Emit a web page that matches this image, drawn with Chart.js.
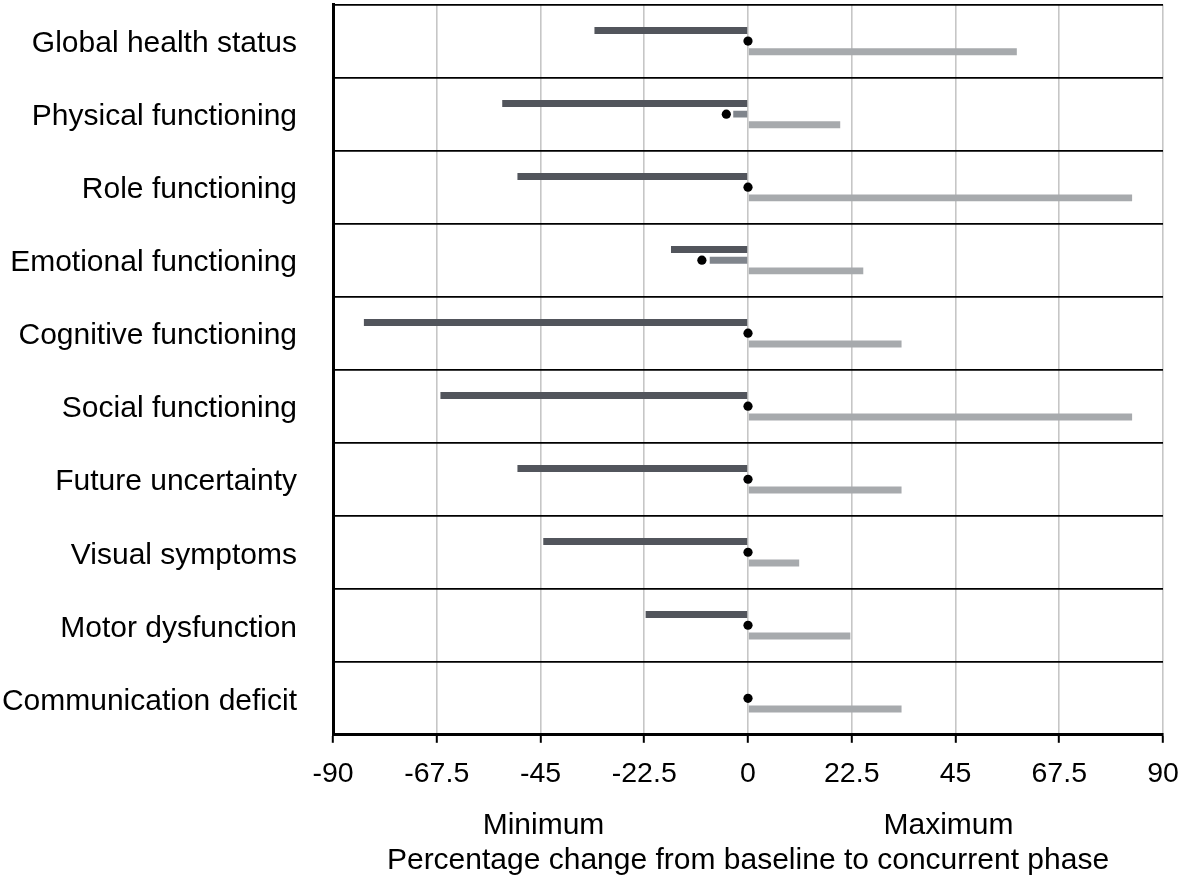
<!DOCTYPE html>
<html>
<head>
<meta charset="utf-8">
<script src="https://cdn.jsdelivr.net/npm/chart.js@4/dist/chart.umd.min.js"></script>
<style>
  html, body { margin: 0; padding: 0; background: #fff; }
  #wrap { width: 1181px; height: 883px; }
</style>
</head>
<body>
<div id="wrap"><canvas id="qolChart" width="1181" height="883"></canvas></div>
<script>
// domains (top to bottom)
const domains = ['Global health status', 'Physical functioning', 'Role functioning', 'Emotional functioning',
   'Cognitive functioning', 'Social functioning', 'Future uncertainty', 'Visual symptoms',
   'Motor dysfunction', 'Communication deficit'];

// percentage change from baseline to concurrent phase
const minimumVals = [-33.3, -53.3, -50, -16.7, -83.3, -66.7, -50, -44.4, -22.2, null];
const medianVals  = [null, -3.2, null, -8.3, null, null, null, null, null, null];
const maximumVals = [58.3, 20, 83.3, 25, 33.3, 83.3, 33.3, 11.1, 22.2, 33.3];
const dotVals     = [0, -4.7, 0, -10, 0, 0, 0, 0, 0, 0];

const xTicks = [-90, -67.5, -45, -22.5, 0, 22.5, 45, 67.5, 90];
const sideLabels = ['Minimum', 'Maximum'];
const xTitle = 'Percentage change from baseline to concurrent phase';

Chart.defaults.font.family = '"Liberation Sans", Arial, Helvetica, sans-serif';
Chart.defaults.color = '#000';

// Minimum / Maximum under the two halves of the axis
const sideLabelPlugin = {
   id: 'sideLabels',
   afterDraw(chart){
      const ctx = chart.ctx;
      const x = chart.scales.x;
      const zero = x.getPixelForValue(0);
      const y = chart.chartArea.bottom + 91;
      ctx.save();
      ctx.font = '30px "Liberation Sans", Arial, sans-serif';
      ctx.fillStyle = '#000';
      ctx.textAlign = 'center';
      ctx.textBaseline = 'middle';
      ctx.fillText(sideLabels[0], (x.left + zero) / 2 + 3, y);
      ctx.fillText(sideLabels[1], (zero + x.right) / 2 - 7, y);
      ctx.restore();
   }
};

const barOpts = { categoryPercentage: 0.44, barPercentage: 0.65, borderWidth: 0, order: 1 };

const chartE = document.getElementById('qolChart').getContext('2d');
const qolChart = new Chart(chartE, {
   type: 'bar',
   data: {
      labels: domains,
      datasets: [
         Object.assign({ label: 'Minimum', data: minimumVals, backgroundColor: '#52555c' }, barOpts),
         Object.assign({ label: 'Median', data: medianVals, backgroundColor: '#80858c' }, barOpts),
         Object.assign({ label: 'Maximum', data: maximumVals, backgroundColor: '#a7aaad' }, barOpts),
         {
            type: 'line',
            label: 'Mean',
            indexAxis: 'y',
            data: dotVals,
            showLine: false,
            pointRadius: 4.6,
            pointBackgroundColor: '#000',
            pointBorderColor: '#000',
            pointBorderWidth: 0,
            order: 0
         }
      ]
   },
   plugins: [sideLabelPlugin],
   options: {
      indexAxis: 'y',
      responsive: false,
      animation: false,
      layout: { padding: { top: 3, right: 18, bottom: 4, left: 0 } },
      plugins: {
         legend: { display: false },
         tooltip: { enabled: false }
      },
      scales: {
         x: {
            type: 'linear',
            min: -90,
            max: 90,
            afterBuildTicks: (scale) => { scale.ticks = xTicks.map(v => ({ value: v })); },
            afterFit: (scale) => {
               scale.paddingLeft = 0;
               scale.paddingRight = 0;
            },
            ticks: {
               padding: 14,
               font: { size: 28.5 },
               color: '#000',
               maxRotation: 0,
               callback: (v) => String(v)
            },
            grid: {
               color: '#c6c6c6',
               lineWidth: 1.6,
               tickColor: '#000',
               tickLength: 8,
               tickWidth: 2
            },
            border: { color: '#000', width: 3 },
            title: {
               display: true,
               text: xTitle,
               font: { size: 30 },
               color: '#000',
               padding: { top: 38, bottom: 0 }
            }
         },
         y: {
            type: 'category',
            afterFit: (scale) => {
               scale.width = 333;
               scale.paddingTop = 0;
               scale.paddingBottom = 0;
            },
            ticks: {
               padding: 36,
               labelOffset: 3,
               font: { size: 30 },
               color: '#000'
            },
            grid: {
               offset: true,
               color: '#000',
               lineWidth: 1.8,
               drawTicks: false
            },
            border: { color: '#000', width: 3 }
         }
      }
   }
});
</script>
</body>
</html>
